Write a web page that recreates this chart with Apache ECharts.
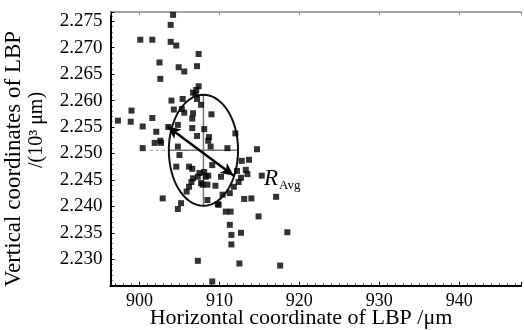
<!DOCTYPE html>
<html>
<head>
<meta charset="utf-8">
<script src="https://cdn.jsdelivr.net/npm/echarts@6/dist/echarts.min.js"></script>
<style>
  html, body { margin: 0; padding: 0; background: #fff; }
  #chart { width: 524px; height: 330px; }
</style>
</head>
<body>
<div id="chart"></div>
<script>
// tick labels
const xTickLabels = ['900', '910', '920', '930', '940']
const yTickLabels = ['2.230', '2.235', '2.240', '2.245', '2.250', '2.255', '2.260', '2.265', '2.270', '2.275']

// laser beam points (x in um, y in 10^3 um)
const lbpX = [
  904.2, 903.9, 900.1, 901.6, 903.9, 904.6, 907.4, 902.5, 907.2, 904.9,
  905.6, 902.6, 907.4, 907.1, 906.7, 907.0, 904.0, 905.4, 907.2, 899.0,
  904.3, 905.3, 905.6, 906.7, 907.7, 909.0, 897.3, 898.9, 901.6, 906.6,
  900.4, 903.6, 904.8, 906.6, 908.1, 902.1, 907.2, 908.7, 908.6, 901.9,
  902.7, 902.6, 900.4, 904.8, 908.9, 912.0, 911.0, 914.7, 905.0, 904.6,
  906.2, 906.6, 907.5, 908.1, 907.3, 906.7, 908.6, 907.7, 906.5, 908.5,
  906.2, 905.9, 902.9, 908.5, 905.2, 904.8, 909.8, 907.3, 909.1, 912.8,
  913.7, 909.1, 912.2, 913.3, 913.5, 910.2, 915.3, 912.7, 909.5, 912.4,
  911.8, 911.3, 910.4, 913.1, 914.0, 917.1, 909.9, 910.8, 911.4, 914.9,
  911.3, 911.5, 912.7, 918.5, 911.5, 912.5, 917.6, 907.9, 908.3
]
const lbpY = [
  2.2762, 2.2743, 2.2715, 2.2715, 2.2711, 2.2704, 2.2688, 2.2672, 2.2665, 2.2663,
  2.2655, 2.2641, 2.2627, 2.2620, 2.2615, 2.2611, 2.2600, 2.2603, 2.2603, 2.2581,
  2.2583, 2.2584, 2.2577, 2.2576, 2.2592, 2.2574, 2.2562, 2.2560, 2.2567, 2.2566,
  2.2551, 2.2550, 2.2554, 2.2548, 2.2546, 2.2541, 2.2533, 2.2531, 2.2524, 2.2520,
  2.2520, 2.2524, 2.2510, 2.2513, 2.2513, 2.2538, 2.2510, 2.2508, 2.2497, 2.2475,
  2.2475, 2.2471, 2.2463, 2.2465, 2.2456, 2.2453, 2.2458, 2.2444, 2.2446, 2.2441,
  2.2437, 2.2428, 2.2415, 2.2412, 2.2406, 2.2395, 2.2404, 2.2297, 2.2258, 2.2486,
  2.2488, 2.2478, 2.2467, 2.2469, 2.2461, 2.2456, 2.2458, 2.2454, 2.2439, 2.2446,
  2.2437, 2.2425, 2.2422, 2.2414, 2.2415, 2.2418, 2.2403, 2.2390, 2.2390, 2.2381,
  2.2365, 2.2346, 2.2350, 2.2351, 2.2328, 2.2292, 2.2288, 2.2441, 2.2456
]

// fitted ellipse and the R_Avg arrow
const ellipseCenter = [908.0, 2.2506]
const ellipseRadius = [4.33, 0.0105]
const rAvgStart = [903.5, 2.2551]
const rAvgEnd = [911.8, 2.2458]

const FONT = 'Liberation Serif'

const ellipsePts = []
for (let k = 0; k <= 120; k++) {
  const t = (k / 120) * Math.PI * 2
  ellipsePts.push([
    ellipseCenter[0] + ellipseRadius[0] * Math.cos(t),
    ellipseCenter[1] + ellipseRadius[1] * Math.sin(t)
  ])
}

const pickLabel = (list, digits) => (val) => {
  const s = Number(val).toFixed(digits)
  return list.indexOf(s) >= 0 ? s : ''
}

const chart = echarts.init(document.getElementById('chart'))

const option = {
  animation: false,
  grid: { left: 110.5, right: 0, top: 12, bottom: 44.3 },
  xAxis: [
    {
      type: 'value',
      min: 896.37,
      max: 947.74,
      splitNumber: 5,
      axisLine: { onZero: false, lineStyle: { color: '#000', width: 2 } },
      axisTick: { inside: true, length: 4, lineStyle: { color: '#000' } },
      minorTick: { show: true, splitNumber: 10, length: 2, lineStyle: { color: '#000' } },
      splitLine: { show: false },
      axisLabel: {
        formatter: pickLabel(xTickLabels, 0),
        color: '#000',
        fontFamily: FONT,
        fontSize: 18,
        margin: 7
      }
    },
    {
      type: 'value',
      position: 'top',
      min: 896.37,
      max: 947.74,
      splitNumber: 5,
      axisLine: { onZero: false, lineStyle: { color: '#888', width: 1.5 } },
      axisTick: { inside: true, length: 3, lineStyle: { color: '#888' } },
      splitLine: { show: false },
      axisLabel: { show: false }
    }
  ],
  yAxis: {
    type: 'value',
    min: 2.225,
    max: 2.27674,
    interval: 0.005,
    axisLine: { onZero: false, lineStyle: { color: '#000', width: 2 } },
    axisTick: { inside: true, length: 4, lineStyle: { color: '#000' } },
    minorTick: { show: true, splitNumber: 5, length: 2, lineStyle: { color: '#000' } },
    splitLine: { show: false },
    axisLabel: {
      formatter: pickLabel(yTickLabels, 3),
      color: '#000',
      fontFamily: FONT,
      fontSize: 19,
      margin: 8
    }
  },
  series: [
    {
      type: 'line',
      data: ellipsePts,
      showSymbol: false,
      silent: true,
      lineStyle: { color: '#111', width: 2 },
      z: 3
    },
    {
      type: 'line',
      data: [[ellipseCenter[0], ellipseCenter[1] + ellipseRadius[1]], [ellipseCenter[0], ellipseCenter[1] - ellipseRadius[1]]],
      showSymbol: false,
      silent: true,
      lineStyle: { color: '#777', width: 1.5 },
      z: 2
    },
    {
      type: 'line',
      data: [[ellipseCenter[0] - ellipseRadius[0], ellipseCenter[1]], [ellipseCenter[0] + ellipseRadius[0], ellipseCenter[1]]],
      showSymbol: false,
      silent: true,
      lineStyle: { color: '#777', width: 1.5 },
      z: 2
    },
    {
      type: 'line',
      data: [[901.3, ellipseCenter[1]], [ellipseCenter[0] - ellipseRadius[0], ellipseCenter[1]]],
      showSymbol: false,
      silent: true,
      lineStyle: { color: '#aaa', width: 1.2, type: [3, 3] },
      z: 2
    },
    {
      type: 'scatter',
      data: lbpX.map((x, i) => [x, lbpY[i]]),
      symbol: 'rect',
      symbolSize: 6,
      itemStyle: { color: '#000' },
      z: 5
    },
    {
      type: 'line',
      data: [rAvgStart, rAvgEnd],
      showSymbol: false,
      silent: true,
      lineStyle: { opacity: 0 },
      markLine: {
        silent: true,
        symbol: ['arrow', 'arrow'],
        symbolSize: [9, 13],
        label: { show: false },
        lineStyle: { color: '#000', width: 2.5, type: 'solid' },
        data: [[{ coord: rAvgStart }, { coord: rAvgEnd }]]
      },
      z: 6
    }
  ],
  graphic: [
    {
      type: 'text',
      x: 14,
      y: 159,
      rotation: Math.PI / 2,
      style: {
        text: 'Vertical coordinates of LBP',
        font: '23px "Liberation Serif"',
        fill: '#000',
        align: 'center',
        verticalAlign: 'middle'
      }
    },
    {
      type: 'text',
      x: 37,
      y: 130,
      rotation: Math.PI / 2,
      style: {
        text: '/(10³ μm)',
        font: '20px "Liberation Serif"',
        fill: '#000',
        align: 'center',
        verticalAlign: 'middle'
      }
    },
    {
      type: 'text',
      x: 301,
      y: 318,
      style: {
        text: 'Horizontal coordinate of LBP /μm',
        font: '22px "Liberation Serif"',
        fill: '#000',
        align: 'center',
        verticalAlign: 'middle'
      }
    },
    {
      type: 'text',
      x: 264,
      y: 179,
      style: {
        text: 'R',
        font: 'italic 23px "Liberation Serif"',
        fill: '#000',
        align: 'left',
        verticalAlign: 'middle'
      }
    },
    {
      type: 'text',
      x: 279,
      y: 186,
      style: {
        text: 'Avg',
        font: '13px "Liberation Serif"',
        fill: '#000',
        align: 'left',
        verticalAlign: 'middle'
      }
    }
  ]
}

chart.setOption(option)
</script>
</body>
</html>
